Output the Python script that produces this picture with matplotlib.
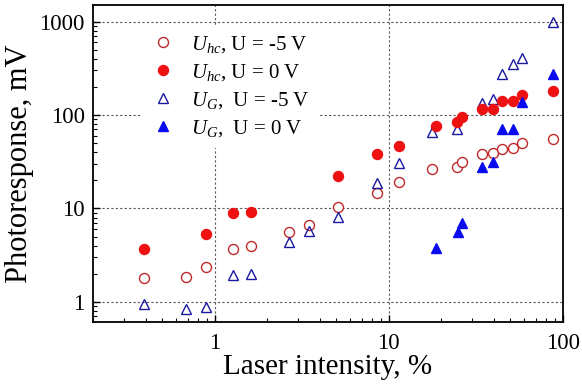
import numpy as np
import matplotlib
matplotlib.use("Agg")
import matplotlib.pyplot as plt

plt.rcParams['font.family'] = ['Liberation Serif', 'DejaVu Serif']
plt.rcParams['mathtext.fontset'] = 'custom'
plt.rcParams['mathtext.rm'] = 'Liberation Serif'
plt.rcParams['mathtext.it'] = 'Liberation Serif:italic'

# Uhc, U = -5 V (open circles)
x_hc5 = [0.39, 0.68, 0.89, 1.28, 1.61, 2.68, 3.49, 5.11, 8.54, 11.4,
         17.8, 24.8, 26.5, 34.5, 39.8, 44.8, 51.8, 58.3, 87.7]
y_hc5 = [1.81, 1.85, 2.37, 3.69, 3.97, 5.6, 6.66, 10.4, 14.6, 19.2,
         26.5, 27.8, 31.4, 38.3, 39.2, 43.3, 44.4, 50.2, 55.4]

# Uhc, U = 0 V (filled circles)
x_hc0 = [0.39, 0.89, 1.28, 1.61, 5.11, 8.54, 11.4, 18.8, 24.8, 26.5,
         34.5, 39.8, 44.8, 51.8, 58.3, 87.7]
y_hc0 = [3.69, 5.34, 8.95, 9.18, 22.3, 38.3, 46.6, 76.3, 84.2, 95.2,
         116, 116, 141, 141, 164, 181]

# UG, U = -5 V (open triangles)
x_g5 = [0.39, 0.68, 0.89, 1.28, 1.61, 2.68, 3.49, 5.11, 8.54, 11.4,
        17.8, 24.8, 34.5, 39.8, 44.8, 51.8, 58.3, 87.7]
y_g5 = [0.95, 0.84, 0.88, 1.94, 1.99, 4.38, 5.75, 8.11, 18.7, 30.7,
        65.8, 70.8, 134, 148, 275, 351, 407, 988]

# UG, U = 0 V (filled triangles)
x_g0 = [18.6, 25.1, 26.5, 34.5, 39.8, 44.8, 51.8, 58.3, 87.7]
y_g0 = [3.78, 5.6, 7.0, 27.8, 31.4, 70.8, 70.8, 138, 275]

fig = plt.figure(figsize=(5.82, 3.88), dpi=100)
ax = fig.add_axes([0.160, 0.170, 0.807, 0.817])

ax.plot(x_hc5, y_hc5, 'o', ls='none', ms=7.2, mfc='white', mec='#c0282a', mew=1.0,
        label=r'$U_{hc}$, U = -5 V', zorder=3)
ax.plot(x_hc0, y_hc0, 'o', ls='none', ms=7.2, mfc='#ee1111', mec='#ee1111',
        label=r'$U_{hc}$, U = 0 V', zorder=4)
ax.plot(x_g5, y_g5, '^', ls='none', ms=7.5, mfc='none', mec='#1a1aa0', mew=1.0,
        label=r'$U_G$,  U = -5 V', zorder=3)
ax.plot(x_g0, y_g0, '^', ls='none', ms=7.5, mfc='#0a0aee', mec='#0a0aee',
        label=r'$U_G$,  U = 0 V', zorder=4)

ax.set_xscale('log')
ax.set_yscale('log')
ax.set_xlim(0.2, 100)
ax.set_ylim(0.61, 1500)
ax.set_xticks([1, 10, 100])
ax.set_xticklabels(['1', '10', '100'])
ax.set_yticks([1, 10, 100, 1000])
ax.set_yticklabels(['1', '10', '100', '1000'])

ax.tick_params(axis='both', which='both', direction='in', labelsize=16.5)
ax.tick_params(which='major', length=5, width=1)
ax.tick_params(which='minor', length=3, width=0.8)
ax.tick_params(axis='x', pad=8)
ax.tick_params(axis='y', pad=6)

ax.grid(True, which='major', color='0.35', linestyle=(0, (2, 2)), linewidth=0.8)
for s in ax.spines.values():
    s.set_linewidth(1.3)

ax.set_xlabel('Laser intensity, %', fontsize=21, labelpad=0)
ax.set_ylabel('Photoresponse, mV', fontsize=22, labelpad=4)

leg = ax.legend(loc='upper left', bbox_to_anchor=(0.082, 0.968), fontsize=15,
                frameon=True, framealpha=1, edgecolor='white', fancybox=False,
                borderpad=0.4, labelspacing=0.34, handlelength=1.2, handletextpad=0.75)
leg.set_zorder(5)

fig.savefig('out.png', dpi=100)
